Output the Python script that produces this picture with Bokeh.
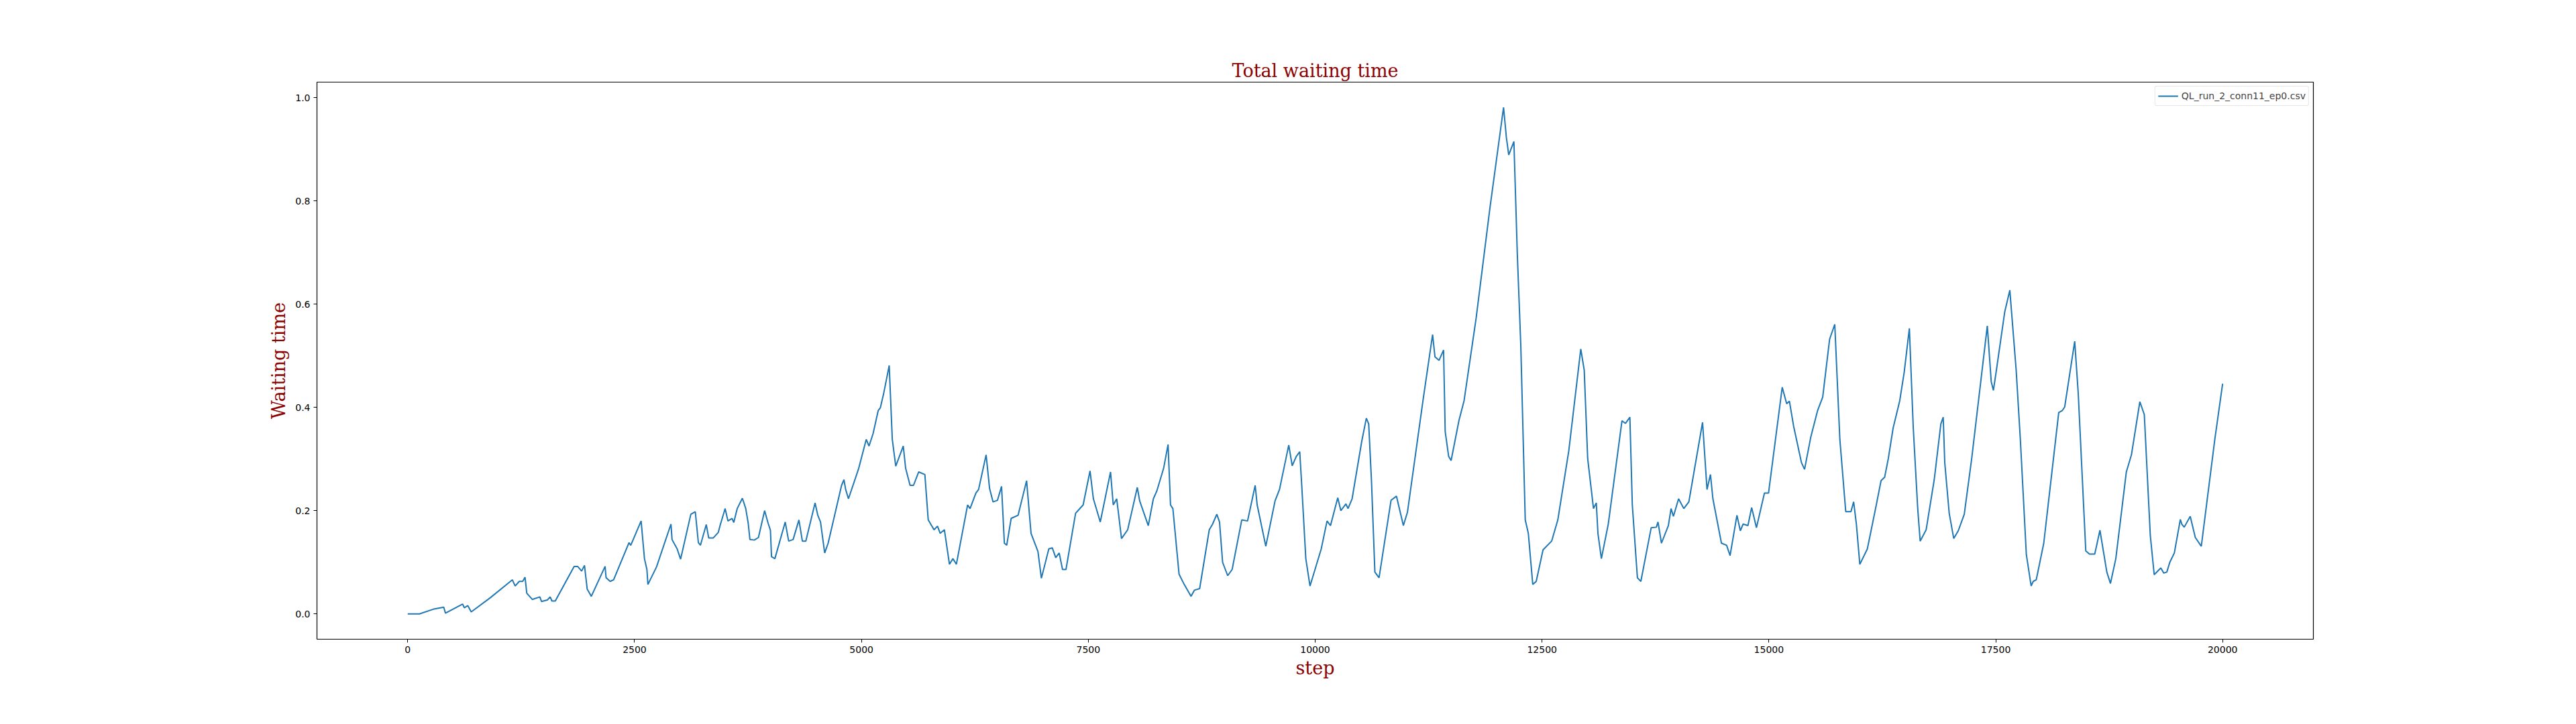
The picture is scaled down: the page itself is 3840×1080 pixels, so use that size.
from bokeh.plotting import figure
from bokeh.models import FixedTicker, Label, Legend, LegendItem, Range1d, PrintfTickFormatter
from bokeh.embed import file_html
from bokeh.resources import INLINE

SERIES_NAME = "QL_run_2_conn11_ep0.csv"

steps = [
    0, 130, 280, 397, 416, 605, 624, 662, 700, 908, 1153, 1184, 1229, 1267, 1293, 1312, 1373,
    1456, 1475, 1539, 1570, 1589, 1626, 1834, 1872, 1917, 1948, 1978, 2023, 2175, 2186, 2231,
    2269, 2439, 2458, 2572, 2609, 2636, 2647, 2742, 2901, 2913, 2969, 3007, 3120, 3169, 3203,
    3226, 3290, 3317, 3366, 3423, 3442, 3498, 3529, 3574, 3593, 3631, 3688, 3725, 3752, 3771,
    3820, 3865, 3933, 3971, 3997, 4009, 4046, 4160, 4198, 4247, 4311, 4349, 4387, 4489, 4519,
    4549, 4595, 4633, 4727, 4781, 4807, 4826, 4857, 4970, 5053, 5083, 5128, 5185, 5208, 5245,
    5306, 5340, 5378, 5412, 5461, 5487, 5536, 5574, 5631, 5699, 5736, 5800, 5838, 5868, 5914,
    5970, 6008, 6046, 6170, 6197, 6261, 6291, 6374, 6412, 6450, 6499, 6544, 6575, 6601, 6650,
    6726, 6820, 6869, 6945, 6983, 7065, 7103, 7141, 7179, 7216, 7254, 7360, 7443, 7519, 7556,
    7632, 7745, 7775, 7813, 7866, 7934, 8040, 8066, 8161, 8217, 8255, 8330, 8379, 8406, 8432,
    8500, 8557, 8632, 8670, 8727, 8833, 8870, 8916, 8946, 8980, 9036, 9085, 9191, 9255, 9339,
    9361, 9456, 9558, 9607, 9709, 9747, 9792, 9830, 9852, 9897, 9943, 10067, 10131, 10169,
    10249, 10283, 10339, 10362, 10407, 10513, 10564, 10590, 10620, 10658, 10704, 10836, 10896,
    10972, 11017, 11188, 11294, 11320, 11365, 11415, 11433, 11471, 11498, 11585, 11641, 11774,
    11925, 12076, 12107, 12133, 12190, 12228, 12266, 12315, 12349, 12398, 12436, 12511, 12606,
    12674, 12795, 12927, 12965, 13003, 13067, 13098, 13116, 13154, 13230, 13381, 13419, 13468,
    13495, 13551, 13589, 13703, 13760, 13778, 13816, 13892, 13922, 13948, 14005, 14062, 14118,
    14269, 14318, 14356, 14383, 14477, 14534, 14572, 14648, 14685, 14716, 14769, 14810, 14863,
    14951, 14996, 15147, 15196, 15226, 15272, 15359, 15393, 15461, 15537, 15593, 15669, 15726,
    15782, 15847, 15904, 15934, 15964, 16002, 16085, 16180, 16236, 16276, 16316, 16369, 16442,
    16491, 16548, 16591, 16640, 16667, 16733, 16822, 16895, 16921, 16938, 16987, 17037, 17087,
    17153, 17235, 17407, 17450, 17474, 17507, 17599, 17655, 17725, 17771, 17837, 17890, 17913,
    17946, 18029, 18194, 18234, 18260, 18370, 18409, 18492, 18532, 18591, 18648, 18724, 18764,
    18823, 18939, 18995, 19088, 19137, 19203, 19246, 19319, 19352, 19385, 19418, 19468, 19534,
    19550, 19577, 19643, 19699, 19765, 19914, 20000,
]

# waiting time, in units of 1e6
waiting = [
    0.0, 0.0, 0.009, 0.013, 0.0015, 0.019, 0.012, 0.016, 0.004, 0.031, 0.066, 0.054, 0.063,
    0.063, 0.071, 0.040, 0.028, 0.033, 0.024, 0.027, 0.033, 0.025, 0.025, 0.092, 0.092, 0.083,
    0.094, 0.048, 0.034, 0.092, 0.070, 0.063, 0.066, 0.138, 0.133, 0.180, 0.107, 0.086, 0.057,
    0.091, 0.174, 0.144, 0.126, 0.106, 0.193, 0.198, 0.138, 0.133, 0.173, 0.147, 0.147, 0.158,
    0.171, 0.204, 0.180, 0.185, 0.177, 0.204, 0.224, 0.204, 0.176, 0.144, 0.143, 0.148, 0.200,
    0.176, 0.162, 0.111, 0.107, 0.178, 0.141, 0.144, 0.182, 0.141, 0.141, 0.215, 0.191, 0.178,
    0.118, 0.137, 0.208, 0.249, 0.260, 0.241, 0.223, 0.282, 0.338, 0.325, 0.349, 0.394, 0.399,
    0.427, 0.481, 0.338, 0.286, 0.302, 0.325, 0.282, 0.249, 0.249, 0.275, 0.270, 0.182, 0.163,
    0.170, 0.156, 0.163, 0.096, 0.107, 0.096, 0.211, 0.204, 0.234, 0.241, 0.308, 0.243, 0.217,
    0.220, 0.247, 0.137, 0.133, 0.185, 0.191, 0.258, 0.156, 0.121, 0.069, 0.126, 0.128, 0.109,
    0.118, 0.086, 0.086, 0.195, 0.211, 0.277, 0.223, 0.178, 0.275, 0.211, 0.223, 0.146, 0.163,
    0.245, 0.219, 0.171, 0.223, 0.238, 0.282, 0.328, 0.211, 0.204, 0.077, 0.057, 0.034, 0.046,
    0.049, 0.163, 0.174, 0.193, 0.178, 0.100, 0.074, 0.086, 0.182, 0.180, 0.249, 0.211, 0.131,
    0.219, 0.241, 0.327, 0.287, 0.305, 0.314, 0.249, 0.107, 0.054, 0.126, 0.180, 0.171, 0.225,
    0.200, 0.213, 0.204, 0.223, 0.334, 0.379, 0.368, 0.260, 0.081, 0.070, 0.220, 0.228, 0.171,
    0.197, 0.413, 0.541, 0.498, 0.491, 0.511, 0.353, 0.305, 0.297, 0.375, 0.413, 0.573, 0.785,
    0.981, 0.923, 0.889, 0.915, 0.695, 0.520, 0.182, 0.156, 0.057, 0.063, 0.124, 0.141, 0.182,
    0.316, 0.513, 0.472, 0.301, 0.204, 0.215, 0.156, 0.107, 0.174, 0.374, 0.369, 0.381, 0.211,
    0.070, 0.063, 0.167, 0.168, 0.178, 0.137, 0.171, 0.204, 0.189, 0.223, 0.204, 0.217, 0.371,
    0.241, 0.270, 0.223, 0.137, 0.133, 0.113, 0.191, 0.161, 0.174, 0.171, 0.206, 0.167, 0.234,
    0.234, 0.439, 0.407, 0.412, 0.364, 0.293, 0.280, 0.342, 0.394, 0.420, 0.532, 0.561, 0.338,
    0.198, 0.198, 0.217, 0.174, 0.096, 0.126, 0.208, 0.258, 0.265, 0.301, 0.360, 0.413, 0.468,
    0.553, 0.360, 0.204, 0.141, 0.163, 0.260, 0.368, 0.381, 0.293, 0.195, 0.146, 0.161, 0.193,
    0.301, 0.558, 0.450, 0.433, 0.472, 0.585, 0.627, 0.472, 0.338, 0.115, 0.054, 0.063, 0.066,
    0.137, 0.390, 0.394, 0.401, 0.528, 0.427, 0.122, 0.116, 0.116, 0.162, 0.081, 0.059, 0.107,
    0.275, 0.308, 0.411, 0.386, 0.152, 0.076, 0.089, 0.079, 0.081, 0.100, 0.118, 0.183, 0.174,
    0.168, 0.189, 0.148, 0.131, 0.338, 0.446,
]

x_ticks = [0, 2500, 5000, 7500, 10000, 12500, 15000, 17500, 20000]
y_ticks = [0.0, 0.2, 0.4, 0.6, 0.8, 1.0]

p = figure(
    width=3824, height=1064,
    x_range=Range1d(-1000, 21000), y_range=Range1d(-0.049, 1.030),
    output_backend="svg", toolbar_location=None,
    min_border_left=472, min_border_right=376,
    min_border_top=122, min_border_bottom=111,
    background_fill_color="white", border_fill_color="white",
)
p.outline_line_color = "black"
p.outline_line_width = 1.2
p.grid.grid_line_color = None

p.title.text = "Total waiting time"
p.title.align = "center"
p.title.text_font = "DejaVu Serif"
p.title.text_font_style = "normal"
p.title.text_font_size = "27px"
p.title.text_color = "darkred"
p.title.standoff = 4

r = p.line(steps, waiting, line_color="#1f77b4", line_width=2)

for ax in (p.xaxis[0], p.yaxis[0]):
    ax.axis_line_color = None
    ax.minor_tick_line_color = None
    ax.major_tick_out = 5
    ax.major_tick_in = 0
    ax.major_label_text_font = "DejaVu Sans"
    ax.major_label_text_font_size = "14px"
    ax.major_label_text_color = "black"
    ax.axis_label_text_font = "DejaVu Serif"
    ax.axis_label_text_font_style = "normal"
    ax.axis_label_text_font_size = "27px"
    ax.axis_label_text_color = "darkred"

p.xaxis.ticker = FixedTicker(ticks=x_ticks)
p.yaxis.ticker = FixedTicker(ticks=y_ticks)
p.yaxis.formatter = PrintfTickFormatter(format="%.1f")
p.xaxis.axis_label = "step"
p.yaxis.axis_label = "Waiting time"
p.xaxis.axis_label_standoff = 4
p.yaxis.axis_label_standoff = 6

p.add_layout(Label(x=-1000, y=1.030, y_offset=3, text="1e6",
                   text_font="DejaVu Sans", text_font_size="14px",
                   text_baseline="bottom", text_align="left"))

legend = Legend(items=[LegendItem(label=SERIES_NAME, renderers=[r])],
                location="top_right")
legend.label_text_font = "DejaVu Sans"
legend.label_text_font_size = "14px"
legend.border_line_color = "#cccccc"
legend.border_radius = 3
legend.margin = 6
legend.padding = 4
legend.glyph_width = 30
legend.label_height = 14
legend.spacing = 0
p.add_layout(legend)

open("out.html", "w").write(file_html(p, INLINE))
